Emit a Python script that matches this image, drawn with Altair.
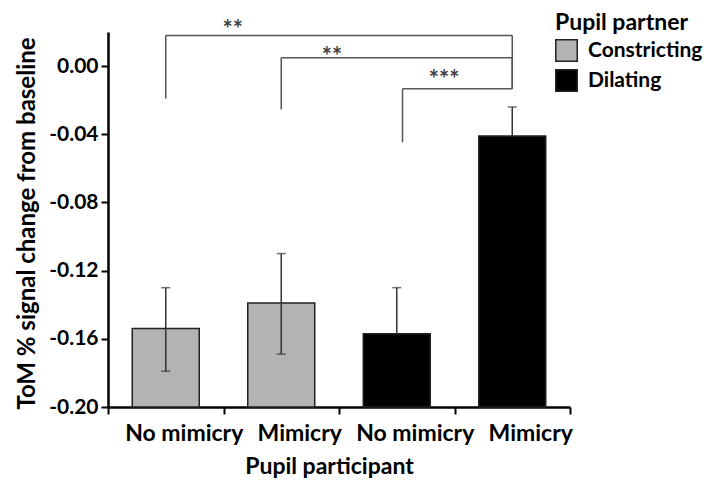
import altair as alt
import pandas as pd

# ---- data ----
participant = ["No mimicry", "Mimicry", "No mimicry", "Mimicry"]
partner = ["Constricting", "Constricting", "Dilating", "Dilating"]
means = [-0.154, -0.139, -0.157, -0.041]
err_low = [-0.179, -0.169, -0.157, -0.041]
err_high = [-0.130, -0.110, -0.130, -0.024]
baseline = -0.20
y_top = 0.02
y_ticks = [-0.20, -0.16, -0.12, -0.08, -0.04, 0.00]

# significance brackets (x in bar-slot units, 0..4)
br_left = [0.5, 1.5, 2.55]
br_right = [3.5, 3.5, 3.5]
br_top = [0.018, 0.0049, -0.0133]
br_left_bottom = [-0.019, -0.0255, -0.0447]
br_right_bottom = [-0.0133, -0.0133, -0.0133]
br_label = ["**", "**", "***"]
br_label_x = [1.08, 1.94, 2.91]
br_label_y = [0.0205, 0.0050, -0.0090]

FONT = "Lato"

keys = [f"{p}|{q}" for p, q in zip(partner, participant)]
df = pd.DataFrame(dict(key=keys, partner=partner, participant=participant,
                       mean=means, lo=err_low, hi=err_high, base=[baseline] * 4))

caps = pd.DataFrame(dict(key=keys + keys[:2], v=err_high + err_low[:2]))

br = pd.DataFrame(dict(l=br_left, r=br_right, top=br_top, lb=br_left_bottom,
                       rb=br_right_bottom))
lab = pd.DataFrame(dict(x=br_label_x, y=br_label_y, t=br_label))

yscale = alt.Scale(domain=[baseline, y_top], nice=False, zero=False)

x_enc = alt.X("key:N", sort=keys,
              scale=alt.Scale(paddingInner=0, paddingOuter=0),
              axis=alt.Axis(title="Pupil participant",
                            labelExpr="split(datum.value, '|')[1]",
                            tickBand="extent", labelAngle=0, labelOffset=18,
                            domainColor="black", domainWidth=2.5,
                            tickColor="black", tickWidth=2, tickSize=7,
                            labelFont=FONT, labelFontSize=23, labelFontWeight="bold",
                            labelColor="black", labelPadding=8,
                            titleFont=FONT, titleFontSize=23, titleFontWeight="bold",
                            titleColor="black", titleX=221, titleY=66,
                            titleAlign="center", titleBaseline="alphabetic"))
x_plain = alt.X("key:N", sort=keys)

y_axis = alt.Axis(title="ToM % signal change from baseline", values=y_ticks,
                  labelExpr="replace(format(datum.value, '.2f'), '\u2212', '-')",
                  grid=False, domainColor="black", domainWidth=2.5,
                  tickColor="black", tickWidth=2, tickSize=7,
                  labelFont=FONT, labelFontSize=21, labelFontWeight="bold",
                  labelColor="black", labelPadding=3,
                  titleFont=FONT, titleFontSize=24, titleFontWeight="bold",
                  titleColor="black", titleX=-74, titleY=191,
                  titleAngle=270, titleAlign="center", titleBaseline="alphabetic")

bars = alt.Chart(df).mark_bar(width=alt.RelativeBandSize(0.58), stroke="#222222",
                              strokeWidth=1.5).encode(
    x=x_enc,
    y=alt.Y("mean:Q", scale=yscale, axis=y_axis),
    y2="base:Q",
    color=alt.Color("partner:N",
                    scale=alt.Scale(domain=["Constricting", "Dilating"],
                                    range=["#b3b3b3", "#000000"]),
                    legend=alt.Legend(title="Pupil partner", orient="none",
                                      legendX=447, legendY=-20,
                                      titleFont=FONT, titleFontSize=23,
                                      titleFontWeight="bold", titleColor="black",
                                      titlePadding=4,
                                      labelFont=FONT, labelFontSize=21,
                                      labelFontWeight="bold", labelColor="black",
                                      symbolType="square", symbolSize=460,
                                      symbolStrokeColor="#222222",
                                      symbolStrokeWidth=1.5, rowPadding=1,
                                      labelOffset=10)),
)

err = alt.Chart(df).mark_rule(color="#333333", strokeWidth=1.5).encode(
    x=x_plain, y=alt.Y("lo:Q", scale=yscale), y2="hi:Q")

cap = alt.Chart(caps).mark_tick(color="#333333", thickness=1.5, size=9).encode(
    x=x_plain, y=alt.Y("v:Q", scale=yscale))

main = alt.layer(bars, err, cap)

bx = alt.Scale(domain=[0, 4], nice=False, zero=False)
hline = alt.Chart(br).mark_rule(color="#555555", strokeWidth=1.5).encode(
    x=alt.X("l:Q", scale=bx, axis=None), x2="r:Q", y=alt.Y("top:Q", scale=yscale))
lleg = alt.Chart(br).mark_rule(color="#555555", strokeWidth=1.5).encode(
    x=alt.X("l:Q", scale=bx, axis=None), y=alt.Y("top:Q", scale=yscale), y2="lb:Q")
rleg = alt.Chart(br).mark_rule(color="#555555", strokeWidth=1.5).encode(
    x=alt.X("r:Q", scale=bx, axis=None), y=alt.Y("top:Q", scale=yscale), y2="rb:Q")
stars = alt.Chart(lab).mark_text(font=FONT, fontSize=24, fontWeight="bold",
                                 fill="#404040", baseline="middle").encode(
    x=alt.X("x:Q", scale=bx, axis=None), y=alt.Y("y:Q", scale=yscale), text="t:N")

brackets = alt.layer(hline, lleg, rleg, stars)

chart = alt.layer(main, brackets).resolve_scale(x="independent").properties(
    width=462, height=375,
    autosize=alt.AutoSizeParams(type="none"),
    padding={"left": 100, "top": 24, "right": 133, "bottom": 71},
).configure_view(stroke=None)

chart.save("out.html", embed_options={"renderer": "svg", "actions": False})
